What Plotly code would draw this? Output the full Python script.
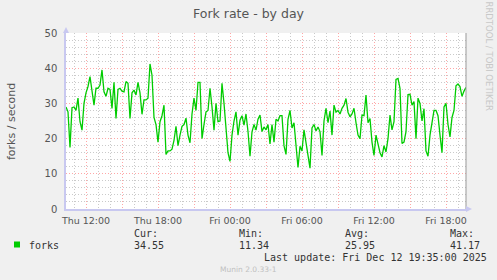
import plotly.graph_objects as go
import pandas as pd

# ---- data (forks / second, 10-minute samples) ----
start_time = "2025-12-11 10:20"
step_minutes = 10
forks = [
    29, 27.6, 17.5, 28.8, 29, 28, 31.5, 24.8, 22.4, 30, 33, 34.8, 37.6, 33.3, 29.5, 34.3, 34.3,
    35.2, 39.5, 33.3, 32, 34.3, 34, 28.6, 36, 25.7, 34, 34.3, 33.5, 33.3, 36.2, 35.7, 25.7,
    33, 33.8, 32.4, 36, 33, 26.9, 31, 31, 31.5, 41.2, 38, 26, 24, 19, 24.8, 26.5, 29.5,
    15.5, 16.5, 16.5, 17, 19.5, 23.5, 18, 21, 23.5, 24, 25.8, 21, 18.8, 27, 31.5, 28, 36,
    36, 20, 24, 27.6, 28, 34.3, 29, 22.4, 30, 24.8, 25, 35.7, 30, 23.3, 16, 13.5, 21,
    25, 27.6, 21, 25.2, 26.5, 23.8, 27, 22, 15, 21.9, 24, 22.4, 25.5, 26.7, 22, 23.3,
    22.5, 24, 18.5, 24, 19, 25.5, 25, 26.5, 26.5, 18, 15.5, 25.5, 28, 23, 24.5, 17.5, 11.8,
    17.8, 16.5, 22.5, 19, 16, 11.6, 23, 24, 22.2, 23.3, 22, 15.2, 25, 28.6, 24.5, 27.8, 21,
    29.5, 27.5, 28, 27, 28.6, 29.5, 31.4, 27.5, 26.2, 27, 28.6, 24.5, 21, 20, 26.7, 26.5, 32.4,
    24.5, 25.7, 19, 15.2, 21, 18.1, 16, 14.8, 18, 16.2, 20, 26.7, 22.5, 24.8, 36.8, 37.1, 34.3,
    18.6, 19, 22, 32.5, 32.6, 29.5, 30.5, 20, 31.5, 30, 25, 28.5, 16.5, 15, 21, 24.5, 28,
    28, 26.5, 21, 16, 29, 30, 24, 20.5, 26, 28, 35, 35.5, 34.8, 32, 33.5, 34.55,
]
times = pd.date_range(start_time, periods=len(forks), freq=f"{step_minutes}min")

x_range = ["2025-12-11 10:20", "2025-12-12 19:40"]
y_range = [0, 50]

title = "Fork rate - by day"
y_title = "forks / second"
series_name = "forks"
stat_labels = ["Cur:", "Min:", "Avg:", "Max:"]
stat_values = ["34.55", "11.34", "25.95", "41.17"]
last_update = "Last update: Fri Dec 12 19:35:00 2025"
side_text = "RRDTOOL / TOBI OETIKER"
footer = "Munin 2.0.33-1"

# ---- layout geometry ----
W, H = 497, 280
L, R, T, B = 66, 466, 33, 209


def px(x):
    return (x - L) / (R - L)


def py(y):
    return (B - y) / (B - T)


GREEN = "#00CC00"
MAJOR = "rgba(255,60,60,0.45)"
MINOR = "rgba(150,150,150,0.5)"
AXIS = "#c8c8f0"
MONO = "DejaVu Sans Mono"
SANS = "DejaVu Sans"
DASH = "1px,2px"

fig = go.Figure()
fig.add_trace(go.Scatter(x=times, y=forks, mode="lines",
                         line=dict(color=GREEN, width=1.3), name=series_name,
                         showlegend=False, hoverinfo="skip"))

fig.update_layout(
    width=W, height=H,
    margin=dict(l=L, r=W - R, t=T, b=H - B, pad=0),
    paper_bgcolor="#F0F0F0", plot_bgcolor="#FFFFFF",
    title=dict(text=title, x=0.5, xref="container", xanchor="center",
               y=1 - 14 / H, yref="container", yanchor="middle",
               font=dict(family=SANS, size=12.5, color="#555555")),
    showlegend=False,
)

fig.update_xaxes(
    type="date", range=x_range, tickmode="linear",
    tick0="2025-12-11 12:00", dtick=3 * 3600000, ticklabelstep=2,
    tickformat="%a %H:%M", tickfont=dict(family=SANS, size=9.5, color="#555555"),
    showgrid=True, gridcolor=MAJOR, griddash=DASH, gridwidth=1,
    minor=dict(dtick=3600000, tick0="2025-12-11 00:00", showgrid=True,
               gridcolor=MINOR, griddash=DASH, gridwidth=1),
    showline=True, linecolor=AXIS, linewidth=1.5,
    ticks="outside", ticklen=2, tickcolor="rgba(0,0,0,0)",
    zeroline=False, fixedrange=True,
)
fig.update_yaxes(
    range=y_range, tickmode="linear", tick0=0, dtick=10,
    tickfont=dict(family=SANS, size=10, color="#555555"),
    showgrid=True, gridcolor=MAJOR, griddash=DASH, gridwidth=1,
    minor=dict(dtick=2, showgrid=True, gridcolor=MINOR, griddash=DASH, gridwidth=1),
    showline=True, linecolor=AXIS, linewidth=1.5,
    ticks="outside", ticklen=5, tickcolor="rgba(0,0,0,0)",
    zeroline=False, fixedrange=True,
)

# right border and axis arrows
fig.add_shape(type="line", xref="paper", yref="paper", x0=1, x1=1, y0=0, y1=1,
              line=dict(color="#999999", width=1))
fig.add_shape(type="path", xref="paper", yref="paper",
              path=f"M {px(63)} {py(33)} L {px(69)} {py(33)} L {px(66)} {py(27)} Z",
              fillcolor=AXIS, line=dict(width=0))
fig.add_shape(type="path", xref="paper", yref="paper",
              path=f"M {px(466)} {py(206)} L {px(466)} {py(212)} L {px(472)} {py(209)} Z",
              fillcolor=AXIS, line=dict(width=0))

ann = []
ann.append(dict(text=y_title, textangle=-90, x=px(11), y=0.5, xanchor="center",
                yanchor="middle", font=dict(family=SANS, size=11, color="#555555")))
ann.append(dict(text=side_text, textangle=90, x=px(488.5), y=py(57), xanchor="center",
                yanchor="middle", font=dict(family=SANS, size=8.5, color="#c8c8c8")))
# legend
fig.add_shape(type="rect", xref="paper", yref="paper",
              x0=px(14), x1=px(20), y0=py(247.5), y1=py(241.5),
              fillcolor=GREEN, line=dict(width=0))
ann.append(dict(text=series_name, x=px(26.5), y=py(245), xanchor="left", yanchor="middle",
                font=dict(family=MONO, size=10, color="#333333")))
stat_x = [131.5, 237, 342.5, 447.5]
for sx, lab, val in zip(stat_x, stat_labels, stat_values):
    ann.append(dict(text=lab, x=px(sx), y=py(233.5), xanchor="left", yanchor="middle",
                    font=dict(family=MONO, size=10, color="#333333")))
    ann.append(dict(text=val, x=px(sx), y=py(245), xanchor="left", yanchor="middle",
                    font=dict(family=MONO, size=10, color="#333333")))
ann.append(dict(text=last_update, x=px(262), y=py(257), xanchor="left", yanchor="middle",
                font=dict(family=MONO, size=10, color="#333333")))
ann.append(dict(text=footer, x=px(248.5), y=py(269), xanchor="center", yanchor="middle",
                font=dict(family=SANS, size=7.5, color="#c0c0c0")))
for a in ann:
    a.update(xref="paper", yref="paper", showarrow=False)
fig.update_layout(annotations=ann)

fig.write_html("out.html")
